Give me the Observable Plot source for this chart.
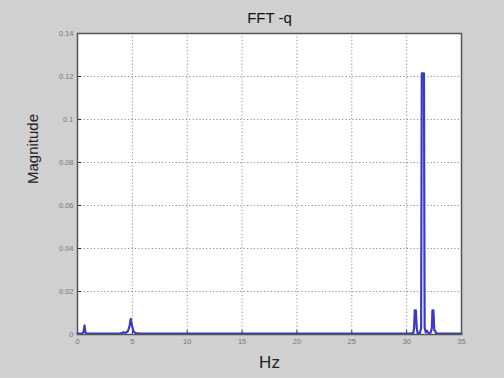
<!DOCTYPE html>
<html>
<head>
<meta charset="utf-8">
<script src="https://cdn.jsdelivr.net/npm/d3@7"></script>
<script src="https://cdn.jsdelivr.net/npm/@observablehq/plot@0.6"></script>
<style>
html,body{margin:0;padding:0;background:#d0d0d0;}
#chart{width:504px;height:378px;}
</style>
</head>
<body>
<div id="chart"></div>
<script>
const title = "FFT -q";
const xLabel = "Hz";
const yLabel = "Magnitude";
const xTicks = [0, 5, 10, 15, 20, 25, 30, 35];
const yTicks = [0, 0.02, 0.04, 0.06, 0.08, 0.1, 0.12, 0.14];
const hz  = [0, 0.4, 0.55, 0.64, 0.72, 0.85, 3.9, 4.2, 4.4, 4.6, 4.75, 4.85, 4.95, 5.1, 5.3, 5.6, 30.3, 30.6, 30.68, 30.74, 30.84, 30.92, 31.0, 31.2, 31.32, 31.38, 31.58, 31.64, 31.75, 31.85, 31.95, 32.1, 32.2, 32.3, 32.35, 32.44, 32.52, 32.6, 32.7, 32.9, 35];
const mag = [0.0004, 0.0004, 0.0012, 0.0042, 0.0010, 0.0004, 0.0004, 0.0010, 0.0008, 0.0016, 0.0040, 0.0073, 0.0045, 0.0015, 0.0006, 0.0004, 0.0004, 0.0006, 0.0030, 0.0112, 0.0112, 0.0030, 0.0006, 0.0006, 0.0030, 0.1215, 0.1215, 0.0030, 0.0010, 0.0018, 0.0008, 0.0006, 0.0010, 0.0030, 0.0112, 0.0112, 0.0020, 0.0016, 0.0006, 0.0004, 0.0004];
const data = hz.map((h, i) => ({hz: h, mag: mag[i]}));
const gridStyle = {stroke: "#333", strokeOpacity: 0.55, strokeDasharray: "1.2,2.2", strokeWidth: 1};
const chart = Plot.plot({
  width: 504,
  height: 378,
  marginLeft: 77,
  marginRight: 43,
  marginTop: 33,
  marginBottom: 44,
  style: {background: "#d0d0d0", fontFamily: "Liberation Sans, Arial, sans-serif", color: "#444"},
  x: {domain: [0, 35], ticks: xTicks, label: xLabel},
  y: {domain: [0, 0.14], ticks: yTicks, label: yLabel},
  marks: [
    Plot.frame({fill: "white", stroke: "none"}),
    Plot.gridX(xTicks.slice(1, -1), gridStyle),
    Plot.gridY(yTicks.slice(1, -1), gridStyle),
    Plot.axisX(xTicks, {tickSize: -4, tickPadding: 8, fontSize: 7.5, fill: "#777", stroke: "#333", label: null, tickFormat: d => String(d)}),
    Plot.axisY(yTicks, {tickSize: -4, tickPadding: 8, fontSize: 7.5, fill: "#777", stroke: "#333", label: null, tickFormat: d => String(d)}),
    Plot.line(data, {x: "hz", y: "mag", stroke: "#3a3ac8", strokeWidth: 2.2, curve: "linear"}),
    Plot.frame({stroke: "#555", strokeWidth: 1.5}),
    Plot.text([title], {frameAnchor: "top", dy: -21, fontSize: 15, fill: "#111"}),
    Plot.text([xLabel], {frameAnchor: "bottom", dy: 33, fontSize: 17, fill: "#222"}),
    Plot.text([yLabel], {frameAnchor: "left", dx: -44, rotate: -90, fontSize: 15, fill: "#222"})
  ]
});
document.getElementById("chart").appendChild(chart);
</script>
</body>
</html>
